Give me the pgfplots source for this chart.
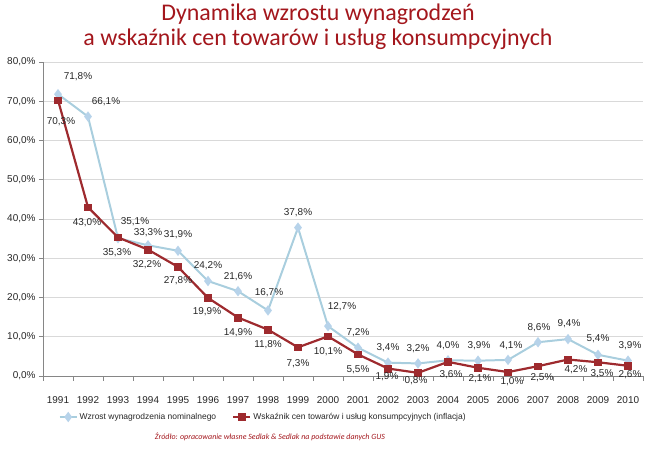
\documentclass[border=0pt]{standalone}
\usepackage{fontspec}
\setmainfont{Liberation Sans}
\newfontfamily\carlito{Carlito}
\usepackage{pgfplots}
\usepackage{pgfplotstable}
\pgfplotsset{compat=1.18}
\definecolor{wblue}{HTML}{A9CEDE}
\definecolor{wbluem}{HTML}{B7D3EA}
\definecolor{ired}{HTML}{9E2A2E}
\definecolor{ttl}{HTML}{A3161C}
\definecolor{gridc}{HTML}{D9D9D9}
\definecolor{axc}{HTML}{868686}
\definecolor{lbl}{HTML}{262626}

\pgfplotstableread{
x y dx dy
0 71.8 20 18
1 66.1 18 15
2 35.1 17 17
3 33.3 0 13
4 31.9 0 16
5 24.2 0 15
6 21.6 0 15
7 16.7 1 18
8 37.8 0 15
9 12.7 14 19
10 7.2 0 15
11 3.4 0 15
12 3.2 0 15
13 4.0 0 15
14 3.9 1 15
15 4.1 3 14
16 8.6 1 15
17 9.4 1 15
18 5.4 0 16
19 3.9 2 15
}\wages

\pgfplotstableread{
x y dx dy
0 70.3 3 -22
1 43.0 -1 -15
2 35.3 -1 -15
3 32.2 -1 -15
4 27.8 0 -14
5 19.9 -1 -14
6 14.9 0 -15
7 11.8 0 -15
8 7.3 0 -16
9 10.1 0 -15
10 5.5 0 -15
11 1.9 -1 -8
12 0.8 -2 -8
13 3.6 3 -13
14 2.1 2 -11
15 1.0 4 -10
16 2.5 4 -11
17 4.2 8 -10
18 3.5 4 -11
19 2.6 2 -9
}\infl

\begin{document}
\begin{tikzpicture}[x=1bp,y=1bp]
\begin{axis}[
  scale only axis, width=600bp, height=314bp,
  at={(0,0)}, anchor=south west,
  clip=false,
  xmin=-0.5, xmax=19.5, ymin=0, ymax=80,
  axis x line*=bottom, axis y line*=left,
  axis line style={axc, line width=0.8pt},
  ytick={0,10,...,80},
  yticklabel={\pgfmathprintnumber[fixed,fixed zerofill,precision=1,use comma]{\tick}\%},
  /pgf/number format/assume math mode=true,
  xtick={0,...,19},
  xticklabels={1991,1992,1993,1994,1995,1996,1997,1998,1999,2000,2001,2002,2003,2004,2005,2006,2007,2008,2009,2010},
  minor xtick={-0.5,0.5,...,19.5},
  tick align=outside,
  major x tick style={draw=none},
  x tick style={axc, line width=0.8pt},
  y tick style={axc, line width=0.8pt},
  major tick length=4bp, minor tick length=5bp,
  ymajorgrids, grid style={gridc, line width=0.8pt},
  tick label style={font=\fontsize{10}{12}\selectfont, text=lbl},
  xticklabel style={yshift=-13bp},
  legend style={at={(0.367,-0.1306)}, anchor=center, draw=none, fill=none,
    font=\fontsize{8.5}{10}\selectfont, text=lbl,
    /tikz/every even column/.append style={column sep=14bp}},
  legend columns=2,
  point meta=y,
  nodes near coords={\pgfmathprintnumber[fixed,fixed zerofill,precision=1,use comma]{\pgfplotspointmeta}\%},
  nodes near coords style={font=\fontsize{10}{12}\selectfont, text=lbl, anchor=center, inner sep=0pt},
]
\addplot[wblue, line width=2pt, mark=diamond*, mark size=3.6bp, mark options={fill=wbluem, draw=wbluem},
  visualization depends on={\thisrow{dx}\as\dx},
  visualization depends on={\thisrow{dy}\as\dy},
  every node near coord/.append style={xshift=\dx bp, yshift=\dy bp}]
  table[x=x,y=y] {\wages};
\addlegendentry{Wzrost wynagrodzenia nominalnego}
\addplot[ired, line width=2.2pt, mark=square*, mark size=3.3bp, mark options={fill=ired, draw=ired, line width=0.5pt},
  visualization depends on={\thisrow{dx}\as\dx},
  visualization depends on={\thisrow{dy}\as\dy},
  every node near coord/.append style={xshift=\dx bp, yshift=\dy bp}]
  table[x=x,y=y] {\infl};
\addlegendentry{Wskaźnik cen towarów i usług konsumpcyjnych (inflacja)}
\end{axis}
\node[text=ttl, anchor=base, inner sep=0pt, font=\carlito\fontsize{24}{28}\selectfont] at (275,355) {Dynamika wzrostu wynagrodzeń};
\node[text=ttl, anchor=base, inner sep=0pt, font=\carlito\fontsize{24}{28}\selectfont] at (275,330) {a wskaźnik cen towarów i usług konsumpcyjnych};
\node[text=ttl, font=\carlito\itshape\fontsize{8}{10}\selectfont] at (227,-61) {Źródło: opracowanie własne Sedlak \& Sedlak na podstawie danych GUS};
\path[use as bounding box] (-43,-73) rectangle (607,376);
\end{tikzpicture}
\end{document}
